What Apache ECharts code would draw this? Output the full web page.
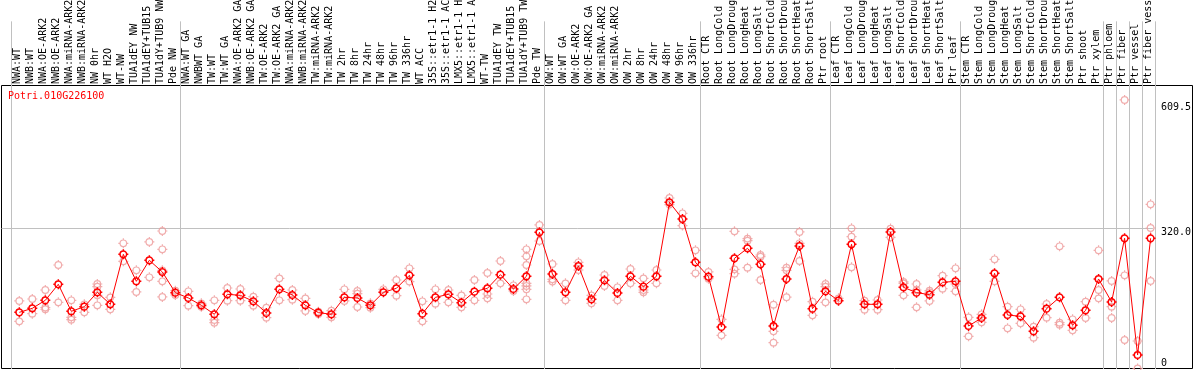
<!DOCTYPE html>
<html>
<head>
<meta charset="utf-8">
<script src="https://cdn.jsdelivr.net/npm/echarts@6/dist/echarts.min.js"></script>
<style>
html,body{margin:0;padding:0;background:#fff;}
#chart{width:1194px;height:370px;}
</style>
</head>
<body>
<div id="chart"></div>
<script>
const geneId = 'Potri.010G226100';

const categories = [
  'NWA:WT','NWB:WT','NWA:OE-ARK2','NWB:OE-ARK2','NWA:miRNA-ARK2','NWB:miRNA-ARK2','NW 0hr','WT H2O','WT-NW','TUA1dEY NW','TUA1dEY+TUB15 NW','TUA1dY+TUB9 NW','Pde NW',
  'NWA:WT GA','NWBWT GA','TW:WT','TW:WT GA','NWA:OE-ARK2 GA','NWB:OE-ARK2 GA','TW:OE-ARK2','TW:OE-ARK2 GA','NWA:miRNA-ARK2 GA','NWB:miRNA-ARK2 GA','TW:miRNA-ARK2','TW:miRNA-ARK2 GA',
  'TW 2hr','TW 8hr','TW 24hr','TW 48hr','TW 96hr','TW 336hr','WT ACC','35S::etr1-1 H2O','35S::etr1-1 ACC','LMX5::etr1-1 H2O','LMX5::etr1-1 ACC','WT-TW','TUA1dEY TW','TUA1dEY+TUB15 TW','TUA1dY+TUB9 TW','Pde TW',
  'OW:WT','OW:WT GA','OW:OE-ARK2','OW:OE-ARK2 GA','OW:miRNA-ARK2','OW:miRNA-ARK2 GA','OW 2hr','OW 8hr','OW 24hr','OW 48hr','OW 96hr','OW 336hr',
  'Root CTR','Root LongCold','Root LongDrought','Root LongHeat','Root LongSalt','Root ShortCold','Root ShortDrought','Root ShortHeat','Root ShortSalt','Ptr root',
  'Leaf CTR','Leaf LongCold','Leaf LongDrought','Leaf LongHeat','Leaf LongSalt','Leaf ShortCold','Leaf ShortDrought','Leaf ShortHeat','Leaf ShortSalt','Ptr leaf',
  'Stem CTR','Stem LongCold','Stem LongDrought','Stem LongHeat','Stem LongSalt','Stem ShortCold','Stem ShortDrought','Stem ShortHeat','Stem ShortSalt','Ptr shoot','Ptr xylem',
  'Ptr phloem','Ptr fiber','Ptr vessel','Ptr fiber vessel'
];

// category indices where a group separator line starts
const groupStarts = [0, 13, 41, 53, 63, 73, 84, 85, 86, 87];

const means = [
  128.0,137.1,155.4,191.9,130.3,140.9,173.6,146.3,260.2,198.7,246.6,220.0,172.9,
  160.7,144.0,123.5,169.1,166.7,153.1,126.5,180.5,167.5,144.0,127.3,123.5,
  162.2,160.7,144.0,173.6,182.7,212.4,125.0,162.2,169.1,150.1,175.1,182.7,213.9,181.2,210.1,310.4,
  215.4,173.6,233.7,157.7,201.0,172.1,210.1,186.5,210.1,378.8,340.8,242.0,
  209.3,94.6,251.1,273.9,237.4,96.9,204.0,279.2,136.4,175.9,
  154.6,283.0,146.3,146.3,311.2,185.0,172.9,168.3,196.4,198.7,
  96.9,115.1,216.9,121.9,118.9,84.7,136.4,162.2,98.4,132.6,204.0,
  151.6,296.7,30.8,296.7
];

const replicates = [
  [153.9,107.5],[158.4,125.0],[178.9,139.0,135.0],[235.9,150.8],[155.4,116.6,111.3],[146.3,128.0],
  [192.6,186.5,166.7,144.0],[162.2,134.9],[285.3,244.3],[223.8,174.4],[288.4,207.8],
  [313.4,271.6,223.8,198.7,163.0],[177.4,167.5],
  [175.9,143.2],[148.5,140.9],[155.4,110.6,104.5],[183.5,154.6],[181.2,154.6],[163.7,143.2],
  [138.7,115.9],[205.5,155.4],[178.9,156.9],[159.9,131.1],[129.6,124.3],[131.8,116.6],
  [180.5,153.9],[176.6,170.6,140.2],[148.5,138.7],[180.5],[201.7,166.0],[228.3,198.0],
  [153.1,107.5],[180.5,147.8],[178.9,150.8],[166.7,139.4],[201.7,155.4],[217.7,169.8,159.9],
  [245.0,194.1],[189.6,176.6],[271.6,255.7,235.9,194.1,188.1,180.5,157.7],[327.1,290.6],
  [238.2,203.3,198.0],[194.1,155.4],[242.0,224.5],[166.7,148.5],[213.1,188.1],[185.0,155.4],
  [226.8,194.1],[205.5,178.9,173.6],[224.5,194.1],[388.6,373.5],[353.7,325.6],[269.4,216.9],
  [220.0,204.8],[112.1,75.6],[312.7,226.0,216.2],[296.0,291.4,229.8],[258.7,254.9,201.7],
  [145.5,84.7,58.9],[229.8,223.8,162.5],[311.2,285.3,245.0],[152.3,121.2],[192.6,186.5,150.8],
  [159.9],[319.5,300.5,230.6],[154.6,134.1],[156.1,134.1],[318.8,299.0],[197.2,194.1,166.7],
  [192.6,178.9,139.4],[177.4,173.6,153.9],[211.6,182.0],[228.3,192.6,175.9],
  [116.6,73.3],[123.5,105.2],[248.8,198.7],[140.9,91.6],[134.9,103.0],[95.4,70.3],
  [147.0,115.9],[278.5,104.5,99.9],[112.1,87.0],[152.3,115.1],[269.4,178.9,159.9],
  [199.5,140.9,115.1],[612.0,212.4,65.0],[62.7,0],[374.2,320.2,199.5]
];

const yTickLabels = [0, 320, 609.5];
const yGridValues = [320];
const yMax = 609.5 * 1.06;

const repData = [];
replicates.forEach((vals, i) => vals.forEach(v => repData.push([i, v])));

// ring with four short ticks (circle drawn with cubic curves)
const marker = 'path://M5,0L5,1.7M5,8.3L5,10M0,5L1.7,5M8.3,5L10,5' +
  'M8.3,5C8.3,6.82,6.82,8.3,5,8.3C3.18,8.3,1.7,6.82,1.7,5C1.7,3.18,3.18,1.7,5,1.7C6.82,1.7,8.3,3.18,8.3,5Z';
const mono = 'DejaVu Sans Mono';

const chart = echarts.init(document.getElementById('chart'), null, {renderer: 'canvas'});
chart.setOption({
  animation: false,
  backgroundColor: '#fff',
  title: {
    text: geneId, left: 8, top: 91, padding: 0,
    textStyle: {color: '#ff0000', fontFamily: mono, fontSize: 10, fontWeight: 'normal'}
  },
  grid: [
    {left: 11, top: 0, width: 1144.3, height: 369},
    {left: 12.8, top: 85, width: 1144.3, height: 283.5},
    {left: 1.5, top: 85, width: 1153.8, height: 283.5},
    {left: 1.5, top: 85.5, width: 1191, height: 283, show: true, borderColor: '#000', borderWidth: 1, backgroundColor: 'transparent'}
  ],
  xAxis: [
    {
      gridIndex: 0, type: 'category', data: categories, boundaryGap: true,
      position: 'bottom', offset: -284,
      axisLine: {show: false, onZero: false}, axisTick: {show: false},
      axisLabel: {interval: 0, rotate: 90, inside: true, margin: 1, color: '#000', fontFamily: mono, fontSize: 10},
      splitLine: {show: true, interval: (idx) => groupStarts.indexOf(idx) >= 0, lineStyle: {color: '#c0c0c0', width: 1}}
    },
    {gridIndex: 1, type: 'category', data: categories, boundaryGap: true, show: false},
    {gridIndex: 2, type: 'value', min: 0, max: 1, show: false},
    {gridIndex: 3, type: 'value', min: 0, max: 1, show: false}
  ],
  yAxis: [
    {gridIndex: 0, type: 'value', min: 0, max: 1, show: false},
    {gridIndex: 1, type: 'value', min: 0, max: yMax, show: false},
    {
      gridIndex: 2, type: 'value', min: 0, max: yMax, position: 'right',
      axisLine: {show: false},
      axisTick: {show: false, customValues: yGridValues},
      splitLine: {show: true, lineStyle: {color: '#c0c0c0', width: 1}},
      axisLabel: {
        customValues: yTickLabels, margin: 8, color: '#000', fontFamily: mono, fontSize: 10,
        formatter: (v) => v > 400 ? '{a|' + v.toFixed(1) + '}' : (v > 100 ? '{b|' + v.toFixed(1) + '}' : '{c|0}'),
        rich: {
          a: {padding: [13, 0, 0, 0], fontFamily: mono, fontSize: 10, color: '#000'},
          b: {padding: [9, 0, 0, 0], fontFamily: mono, fontSize: 10, color: '#000'},
          c: {padding: [0, 0, 11, 0], fontFamily: mono, fontSize: 10, color: '#000'}
        }
      }
    },
    {gridIndex: 3, type: 'value', min: 0, max: 1, show: false}
  ],
  series: [
    {
      type: 'scatter', xAxisIndex: 1, yAxisIndex: 1, data: repData,
      symbol: marker, symbolSize: 10, z: 2, silent: true,
      itemStyle: {color: 'rgba(0,0,0,0)', borderColor: '#ee9999', borderWidth: 1.2}
    },
    {
      type: 'line', xAxisIndex: 1, yAxisIndex: 1, data: means,
      symbol: marker, symbolSize: 10, showAllSymbol: true, z: 3, silent: true,
      lineStyle: {color: '#ff0000', width: 1},
      itemStyle: {color: 'rgba(0,0,0,0)', borderColor: '#ff0000', borderWidth: 1.5}
    }
  ]
});
</script>
</body>
</html>
